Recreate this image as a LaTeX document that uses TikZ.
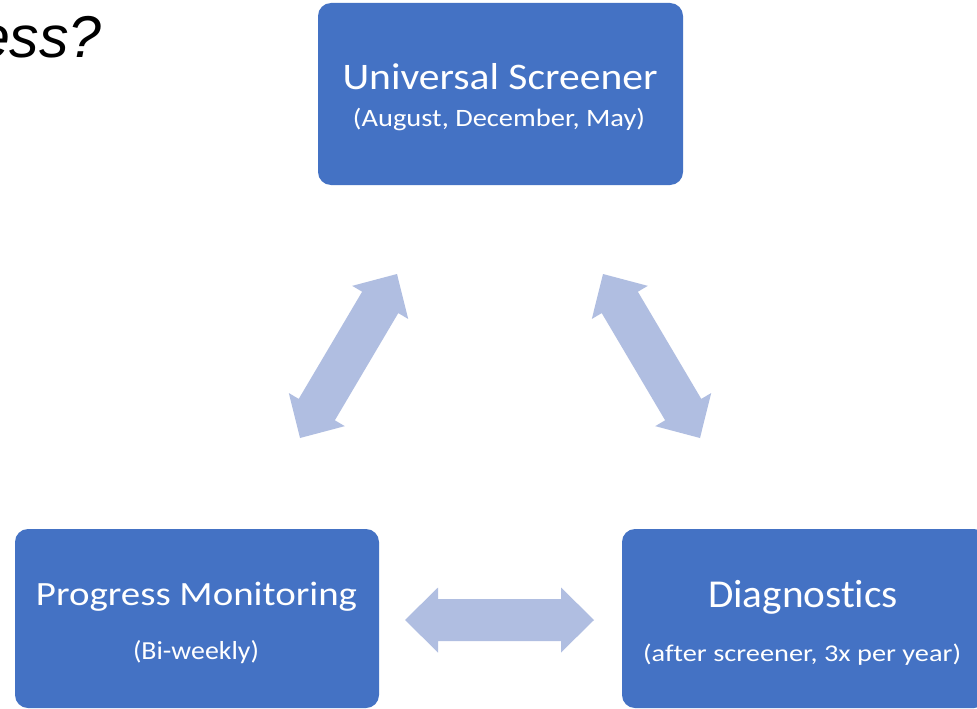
\documentclass[tikz,border=0pt]{standalone}
\usepackage{fontspec}
\setmainfont{Carlito}[Ligatures=NoCommon]
\newfontfamily\headfont{Liberation Sans}
\usetikzlibrary{calc}
\definecolor{boxblue}{RGB}{68,114,196}
\definecolor{arrowblue}{RGB}{176,190,225}
\tikzset{
  stagebox/.style={fill=boxblue, draw=none, rounded corners=13pt, inner sep=0pt},
  boxtext/.style={text=white, anchor=base, inner sep=0pt},
  arrowshape/.style={fill=arrowblue, draw=none}
}
\newcommand\fitw[3]{{\fontsize{#1}{#1}\selectfont\resizebox{#2pt}{\height}{#3}}}
\newcommand\mydblarrow[2]{%
  \coordinate (ha) at ($(#1)!33pt!(#2)$);
  \coordinate (hb) at ($(#2)!33pt!(#1)$);
  \fill[arrowshape] (#1)
    -- ($(ha)!32.5pt!90:(#2)$) -- ($(ha)!21pt!90:(#2)$)
    -- ($(hb)!21pt!-90:(#1)$) -- ($(hb)!32.5pt!-90:(#1)$)
    -- (#2)
    -- ($(hb)!32.5pt!90:(#1)$) -- ($(hb)!21pt!90:(#1)$)
    -- ($(ha)!21pt!-90:(#2)$) -- ($(ha)!32.5pt!-90:(#2)$)
    -- cycle;
}
\begin{document}
\begin{tikzpicture}[x=1pt,y=-1pt]
\useasboundingbox (0,0) rectangle (977,709);
\clip (0,0) rectangle (977,709);
\fill[white] (0,0) rectangle (977,709);
% heading fragment
\node[anchor=base east, inner sep=0pt, font=\headfont\itshape\fontsize{59}{64}\selectfont] (head) at (102,58) {ess?};
% boxes
\node[stagebox, minimum width=365pt, minimum height=182pt] (us) at (500.5,94) {};
\node[stagebox, minimum width=364pt, minimum height=179pt] (pm) at (197,618.5) {};
\node[stagebox, minimum width=365pt, minimum height=179pt] (dg) at (804.5,618.5) {};
% texts
\node[boxtext] (ust) at (500,89.3) {\fitw{37.5}{315}{Universal Screener}};
\node[boxtext] (uss) at (499,126.7) {\fitw{25}{292}{(August, December, May)}};
\node[boxtext] (pmt) at (196.5,605) {\fitw{34}{321}{Progress Monitoring}};
\node[boxtext] (pms) at (196,659.5) {\fitw{26}{126}{(Bi-weekly)}};
\node[boxtext] (dgt) at (803,607) {\fitw{39.5}{190}{Diagnostics}};
\node[boxtext] (dgs) at (802,661.5) {\fitw{24}{318}{(after screener, 3x per year)}};
% arrows
\coordinate (la) at (300,438);
\coordinate (lb) at (397,274);
\coordinate (ra) at (603,274);
\coordinate (rb) at (700,438);
\coordinate (ba) at (405,620);
\coordinate (bb) at (594,620);
\mydblarrow{la}{lb}
\mydblarrow{ra}{rb}
\mydblarrow{ba}{bb}
\end{tikzpicture}
\end{document}
